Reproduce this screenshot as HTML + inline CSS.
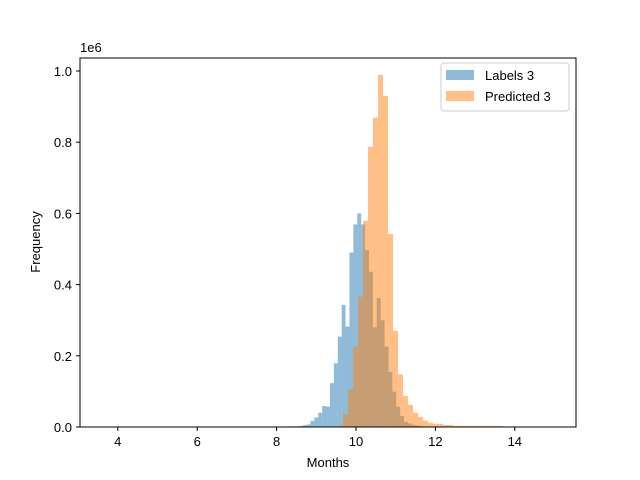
<!DOCTYPE html>
<html><head><meta charset="utf-8"><style>body{margin:0;background:#fff}svg{display:block;font-family:"Liberation Sans","DejaVu Sans",sans-serif}</style></head>
<body>
<svg id="chart" width="640" height="480">
<rect x="80" y="58" width="496" height="369" fill="#fff"/>
<g id="bars"></g>
<rect x="80" y="58" width="496" height="369" fill="none" stroke="#000" stroke-width="1"/>
<g id="axes" font-size="13" fill="#000"></g>
<text x="80" y="52" font-size="13">1e6</text>
<text x="328" y="467" font-size="13" text-anchor="middle">Months</text>
<text transform="translate(40,242) rotate(-90)" font-size="13" text-anchor="middle">Frequency</text>
<g>
<rect x="441" y="63" width="128" height="48" rx="3" fill="#fff" fill-opacity="0.8" stroke="#ccc"/>
<g><rect x="446" y="70" width="28" height="10" fill="#1f77b4" fill-opacity="0.5"/><text x="485" y="80" font-size="13">Labels 3</text></g>
<g><rect x="446" y="91" width="28" height="10" fill="#ff7f0e" fill-opacity="0.5"/><text x="485" y="101" font-size="13">Predicted 3</text></g>
</g>
</svg>
<script>
const labelsStart = 8.166, labelsWidth = 0.0982;
const labelsCounts = [0.001,0.002,0.002,0.002,0.003,0.005,0.007,0.017,0.027,0.04,0.059,0.057,0.123,0.179,0.254,0.343,0.282,0.49,0.569,0.60,0.569,0.497,0.436,0.28,0.362,0.30,0.226,0.155,0.099,0.057,0.031,0.015,0.01,0.006,0.004,0.002,0.001];
const predStart = 9.547, predWidth = 0.126;
const predCounts = [0.004,0.036,0.106,0.226,0.366,0.579,0.787,0.869,0.989,0.93,0.542,0.27,0.148,0.087,0.062,0.040,0.028,0.018,0.012,0.009,0.009,0.006,0.006,0.003,0.003,0.003,0.003,0.003,0.003,0.003,0.003,0.003,0.003,0.001,0.001];
const xTicks = [4,6,8,10,12,14];
const yTicks = [0,0.2,0.4,0.6,0.8,1.0];
const yTickLabels = ["0.0","0.2","0.4","0.6","0.8","1.0"];
const NS="http://www.w3.org/2000/svg";
const xs=v=>356+(v-10)*39.7;
const ys=v=>427-v*356;
const bars=document.getElementById('bars');
function drawSeries(start,w,counts,color,name){
  counts.forEach((c,i)=>{
    const r=document.createElementNS(NS,'rect');
    const x0=xs(start+i*w),x1=xs(start+(i+1)*w);
    r.setAttribute('x',x0);r.setAttribute('width',x1-x0);
    r.setAttribute('y',ys(c));r.setAttribute('height',ys(0)-ys(c));
    r.setAttribute('fill',color);r.setAttribute('fill-opacity','0.5');
    
    
    bars.appendChild(r);
  });
}
drawSeries(labelsStart,labelsWidth,labelsCounts,'#1f77b4','labels');
drawSeries(predStart,predWidth,predCounts,'#ff7f0e','predicted');
const ax=document.getElementById('axes');
xTicks.forEach(t=>{
  const l=document.createElementNS(NS,'line');
  l.setAttribute('x1',xs(t));l.setAttribute('x2',xs(t));l.setAttribute('y1',427);l.setAttribute('y2',431);l.setAttribute('stroke','#000');
  
  
  ax.appendChild(l);
  const tx=document.createElementNS(NS,'text');
  tx.setAttribute('x',xs(t));tx.setAttribute('y',446);tx.setAttribute('text-anchor','middle');tx.textContent=t;
  
  
  ax.appendChild(tx);
});
yTicks.forEach((t,i)=>{
  const l=document.createElementNS(NS,'line');
  l.setAttribute('x1',76);l.setAttribute('x2',80);l.setAttribute('y1',ys(t));l.setAttribute('y2',ys(t));l.setAttribute('stroke','#000');
  
  
  ax.appendChild(l);
  const tx=document.createElementNS(NS,'text');
  tx.setAttribute('x',72);tx.setAttribute('y',ys(t)+5);tx.setAttribute('text-anchor','end');tx.textContent=yTickLabels[i];
  
  
  ax.appendChild(tx);
});
</script>
</body></html>
